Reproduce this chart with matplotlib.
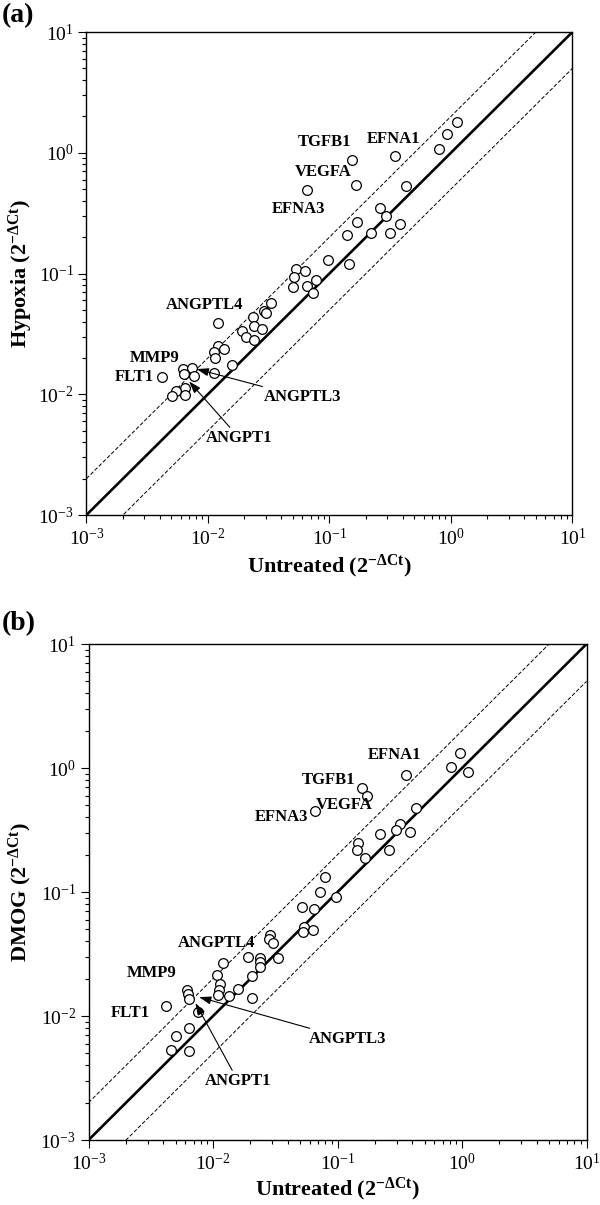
import matplotlib
matplotlib.use("Agg")
import matplotlib.pyplot as plt
import numpy as np

plt.rcParams['font.family'] = ['Liberation Serif', 'DejaVu Serif']
plt.rcParams['mathtext.fontset'] = 'custom'
plt.rcParams['mathtext.rm'] = 'Liberation Serif'
plt.rcParams['mathtext.bf'] = 'Liberation Serif:bold'
plt.rcParams['mathtext.it'] = 'Liberation Serif:italic'

# panel (a): untreated vs hypoxia (2^-dCt)
untreated_a = [1.12, 0.935, 0.794, 0.347, 0.153, 0.166, 0.065, 0.428, 0.259, 0.295,
               0.169, 0.140, 0.218, 0.313, 0.378, 0.097, 0.145, 0.0533, 0.0624, 0.0516,
               0.0783, 0.0506, 0.0655, 0.0726, 0.033, 0.0292, 0.0301, 0.0237, 0.012, 0.0239,
               0.0281, 0.0192, 0.0207, 0.0241, 0.0122, 0.0135, 0.0113, 0.0115, 0.0158, 0.0112,
               0.0062, 0.00746, 0.00641, 0.00764, 0.0042, 0.0065, 0.00546, 0.00506, 0.00644]
hypoxia = [1.79, 1.43, 1.08, 0.94, 0.873, 0.542, 0.49, 0.535, 0.35, 0.297,
           0.268, 0.209, 0.216, 0.216, 0.256, 0.130, 0.120, 0.1086, 0.1047, 0.094,
           0.0879, 0.0769, 0.0787, 0.0692, 0.0569, 0.0491, 0.047, 0.044, 0.0391, 0.0369,
           0.0347, 0.0333, 0.0298, 0.0284, 0.0252, 0.0237, 0.0225, 0.0198, 0.0175, 0.0149,
           0.0162, 0.0166, 0.0146, 0.0143, 0.0139, 0.01125, 0.0107, 0.00972, 0.00977]

# panel (b): untreated vs DMOG (2^-dCt)
untreated_b = [0.964, 0.816, 1.117, 0.355, 0.157, 0.171, 0.0656, 0.431, 0.318, 0.295,
               0.385, 0.221, 0.146, 0.1426, 0.261, 0.1675, 0.0794, 0.0728, 0.0973, 0.0515,
               0.0647, 0.0536, 0.0631, 0.0533, 0.0288, 0.0282, 0.0302, 0.0192, 0.0238, 0.0331,
               0.0239, 0.0239, 0.0121, 0.0207, 0.0107, 0.0113, 0.0158, 0.0111, 0.0135, 0.01104,
               0.0207, 0.00618, 0.0063, 0.0064, 0.0042, 0.00759, 0.00641, 0.00506, 0.00458, 0.00641]
dmog = [1.315, 1.014, 0.923, 0.887, 0.693, 0.598, 0.450, 0.479, 0.356, 0.318,
        0.305, 0.294, 0.248, 0.219, 0.219, 0.188, 0.1315, 0.100, 0.0914, 0.0754,
        0.0729, 0.0522, 0.0497, 0.0474, 0.045, 0.0416, 0.0388, 0.0301, 0.0296, 0.0296,
        0.0272, 0.0248, 0.0267, 0.0209, 0.0213, 0.018, 0.0164, 0.0161, 0.0144, 0.01466,
        0.0139, 0.0163, 0.015, 0.01377, 0.0121, 0.01084, 0.00807, 0.00692, 0.00532, 0.00518]

genes = ["TGFB1", "EFNA1", "VEGFA", "EFNA3", "ANGPTL4", "MMP9", "FLT1"]
lab_a_x = [0.0906, 0.334, 0.0881, 0.0555, 0.0093, 0.00364, 0.0025]
lab_a_y = [1.238, 1.31, 0.695, 0.342, 0.0547, 0.0201, 0.01396]
lab_b_x = [0.0849, 0.287, 0.1138, 0.0356, 0.01076, 0.00324, 0.00215]
lab_b_y = [0.796, 1.285, 0.504, 0.403, 0.0385, 0.0224, 0.01057]

arrow_genes = ["ANGPTL3", "ANGPT1"]
arr_a_tip = [(0.00807, 0.01618), (0.00701, 0.01277)]
arr_a_txt = [(0.0607, 0.00944), (0.01815, 0.00434)]
arr_b_tip = [(0.00773, 0.01422), (0.00723, 0.01274)]
arr_b_txt = [(0.1213, 0.00652), (0.0159, 0.00299)]

lims = [1e-3, 10]
fold = 2.0


def panel(ax, x, y, ylab, lx, ly, tips, txts, xlab_y, ylab_x):
    line = np.array(lims)
    ax.plot(line, line, color="black", lw=1.9, zorder=2)
    ax.plot(line, line * fold, color="black", lw=0.7, ls=(0, (4, 2)), zorder=2)
    ax.plot(line, line / fold, color="black", lw=0.7, ls=(0, (4, 2)), zorder=2)
    ax.plot(x, y, "o", mfc="white", mec="black", ms=7, mew=0.9, zorder=3)
    ax.set_xscale("log")
    ax.set_yscale("log")
    ax.set_xlim(lims)
    ax.set_ylim(lims)
    for g, tx, ty in zip(genes, lx, ly):
        ax.text(tx, ty, g, ha="center", va="center", fontsize=12, fontweight="bold", zorder=4)
    for g, tip, txt in zip(arrow_genes, tips, txts):
        ax.annotate(g, xy=tip, xytext=txt, ha="center", va="center",
                    fontsize=12, fontweight="bold",
                    arrowprops=dict(arrowstyle="-|>,head_length=0.6,head_width=0.2",
                                    color="black", lw=0.8, shrinkA=0, shrinkB=0))
    ax.set_xlabel(r"Untreated (2$^{\mathbf{-\Delta Ct}}$)", fontsize=16, fontweight="bold")
    ax.set_ylabel(ylab, fontsize=16, fontweight="bold")
    ax.xaxis.set_label_coords(0.5, xlab_y)
    ax.yaxis.set_label_coords(ylab_x, 0.5)
    ax.tick_params(which="both", direction="out", top=False, right=False, labelsize=14, width=0.8)
    ax.tick_params(which="major", length=6, pad=3)
    ax.tick_params(which="minor", length=3)
    for s in ax.spines.values():
        s.set_linewidth(1.0)
    return ax


fig = plt.figure(figsize=(6, 12.05), dpi=100)
ax1 = fig.add_axes([0.144, 0.5726, 0.81, 0.4008])
ax2 = fig.add_axes([0.1475, 0.0539, 0.83, 0.4116])

panel(ax1, untreated_a, hypoxia, r"Hypoxia (2$^{\mathbf{-\Delta Ct}}$)",
      lab_a_x, lab_a_y, arr_a_tip, arr_a_txt, -0.078, -0.106)
panel(ax2, untreated_b, dmog, r"DMOG (2$^{\mathbf{-\Delta Ct}}$)",
      lab_b_x, lab_b_y, arr_b_tip, arr_b_txt, -0.072, -0.109)

fig.text(0.003, 0.9975, "(a)", fontsize=20, fontweight="bold", ha="left", va="top")
fig.text(0.003, 0.4925, "(b)", fontsize=20, fontweight="bold", ha="left", va="top")

fig.savefig("out.png", dpi=100)
